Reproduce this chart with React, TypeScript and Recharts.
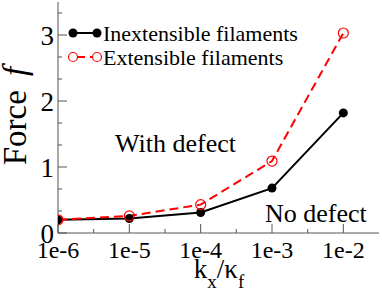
import React from "react";
import { LineChart, Line, XAxis, YAxis, Customized } from "recharts";

// ---- data ----
const xTickLabels = ["1e-6", "1e-5", "1e-4", "1e-3", "1e-2"];
const xExponents = [-6, -5, -4, -3, -2];
const inextensible = [0.2, 0.22, 0.31, 0.68, 1.82];
const extensible = [0.2, 0.26, 0.43, 1.09, 3.03];
const yTickLabels = ["0", "1", "2", "3"];
const yMajorValues = [0, 1, 2, 3];

const data = xExponents.map((e, i) => ({
  x: e,
  inext: inextensible[i],
  ext: extensible[i],
}));

const xTicks = [-6, -5.5, -5, -4.5, -4, -3.5, -3, -2.5, -2];
const yTicks = [0, 1 / 3, 2 / 3, 1, 4 / 3, 5 / 3, 2, 7 / 3, 8 / 3, 3, 10 / 3];

const FONT = "'Liberation Serif', 'Times New Roman', serif";
const AXIS = "#555";
const MAJOR = 9;
const MINOR = 4;

const isMajorX = (v: number) => Math.abs(v - Math.round(v)) < 1e-6;
const isMajorY = (v: number) => Math.abs(v - Math.round(v)) < 1e-6;

const BottomTick = (props: any) => {
  const { x, y, payload } = props;
  const v = payload.value;
  const major = isMajorX(v);
  const idx = xExponents.indexOf(Math.round(v));
  return (
    <g>
      <line x1={x} x2={x} y1={y} y2={y - (major ? MAJOR : MINOR)} stroke={AXIS} strokeWidth={1} />
      {major && idx >= 0 && (
        <text x={x} y={y + 8} dy="0.71em" textAnchor="middle" fontFamily={FONT} fontSize={24} fill="#000">
          {xTickLabels[idx]}
        </text>
      )}
    </g>
  );
};

const TopTick = (props: any) => {
  const { x, y, payload } = props;
  const major = isMajorX(payload.value);
  return <line x1={x} x2={x} y1={y} y2={y + (major ? MAJOR : MINOR)} stroke={AXIS} strokeWidth={1} />;
};

const LeftTick = (props: any) => {
  const { x, y, payload } = props;
  const v = payload.value;
  const major = isMajorY(v);
  const idx = yMajorValues.indexOf(Math.round(v));
  return (
    <g>
      <line x1={x} x2={x + (major ? MAJOR : MINOR)} y1={y} y2={y} stroke={AXIS} strokeWidth={1} />
      {major && idx >= 0 && (
        <text x={x - 4} y={y} dy="0.355em" textAnchor="end" fontFamily={FONT} fontSize={27} fill="#000">
          {yTickLabels[idx]}
        </text>
      )}
    </g>
  );
};

const RightTick = (props: any) => {
  const { x, y, payload } = props;
  const major = isMajorY(payload.value);
  return <line x1={x} x2={x - (major ? MAJOR : MINOR)} y1={y} y2={y} stroke={AXIS} strokeWidth={1} />;
};

const Overlay = () => (
  <g fontFamily={FONT} fill="#000">
    {/* legend */}
    <line x1={73} x2={97} y1={33} y2={33} stroke="#000" strokeWidth={2} />
    <circle cx={73} cy={33} r={4.5} fill="#000" />
    <circle cx={97} cy={33} r={4.5} fill="#000" />
    <text x={103} y={40.5} fontSize={22}>Inextensible filaments</text>
    <line x1={73} x2={97} y1={57} y2={57} stroke="#ff0000" strokeWidth={2} strokeDasharray="8 5" strokeDashoffset={-4} />
    <circle cx={73} cy={57} r={4.5} fill="#fff" stroke="#ff0000" strokeWidth={1.2} />
    <circle cx={97} cy={57} r={4.5} fill="#fff" stroke="#ff0000" strokeWidth={1.2} />
    <text x={103} y={64.5} fontSize={22}>Extensible filaments</text>
    {/* annotations */}
    <text x={115} y={152} fontSize={26}>With defect</text>
    <text x={265} y={222} fontSize={26}>No defect</text>
    {/* axis titles */}
    <text transform="translate(26,116) rotate(-90)" textAnchor="middle" fontSize={33}>
      Force <tspan fontStyle="italic" dx={6}>f</tspan>
    </text>
    <text x={219} y={278} textAnchor="middle" fontSize={27}>
      k<tspan fontSize={19} dy={10}>x</tspan>
      <tspan dy={-10}>/κ</tspan>
      <tspan fontSize={19} dy={10}>f</tspan>
    </text>
  </g>
);

export default function App() {
  return (
    <div style={{ position: "absolute", left: 0, top: 0, width: 382, height: 296, background: "#fff" }}>
      <LineChart width={382} height={296} data={data} margin={{ top: 2, right: 3, left: 0, bottom: 0 }}>
        <XAxis
          xAxisId="b"
          dataKey="x"
          type="number"
          domain={[-6, -1.5]}
          ticks={xTicks}
          allowDataOverflow
          height={63}
          tickSize={0}
          tickMargin={0}
          tickLine={false}
          axisLine={{ stroke: AXIS, strokeWidth: 1 }}
          tick={<BottomTick />}
          interval={0}
        />
        <XAxis
          xAxisId="t"
          dataKey="x"
          type="number"
          orientation="top"
          domain={[-6, -1.5]}
          ticks={xTicks}
          allowDataOverflow
          height={0}
          tickSize={0}
          tickMargin={0}
          tickLine={false}
          axisLine={{ stroke: AXIS, strokeWidth: 1 }}
          tick={<TopTick />}
          interval={0}
        />
        <YAxis
          yAxisId="l"
          type="number"
          domain={[0, 3.5]}
          ticks={yTicks}
          allowDataOverflow
          width={58}
          tickSize={0}
          tickMargin={0}
          tickLine={false}
          axisLine={{ stroke: AXIS, strokeWidth: 1 }}
          tick={<LeftTick />}
          interval={0}
        />
        <YAxis
          yAxisId="r"
          type="number"
          orientation="right"
          domain={[0, 3.5]}
          ticks={yTicks}
          allowDataOverflow
          width={0}
          tickSize={0}
          tickMargin={0}
          tickLine={false}
          axisLine={{ stroke: AXIS, strokeWidth: 1 }}
          tick={<RightTick />}
          interval={0}
        />
        <Line
          xAxisId="b"
          yAxisId="l"
          dataKey="inext"
          stroke="#000"
          strokeWidth={2}
          dot={{ r: 4.5, fill: "#000", stroke: "#000", strokeWidth: 0 }}
          isAnimationActive={false}
        />
        <Line
          xAxisId="b"
          yAxisId="l"
          dataKey="ext"
          stroke="#ff0000"
          strokeWidth={2}
          strokeDasharray="9 5"
          dot={{ r: 5, fill: "none", stroke: "#ff0000", strokeWidth: 1.2, strokeDasharray: "0" }}
          isAnimationActive={false}
        />
        <Customized component={Overlay} />
      </LineChart>
    </div>
  );
}
